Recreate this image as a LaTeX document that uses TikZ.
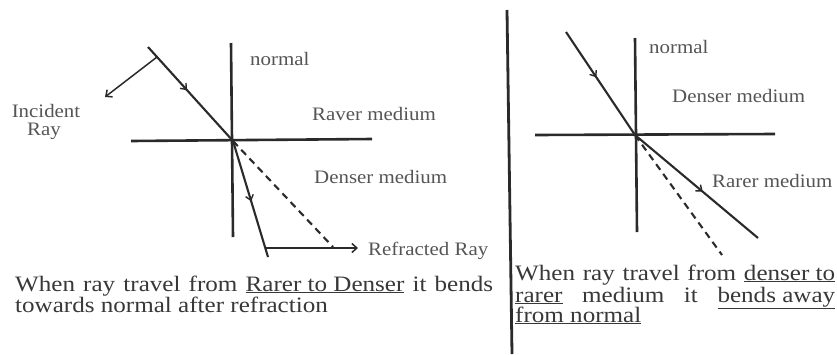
\documentclass[tikz,border=0pt]{standalone}
\usepackage{fontspec}
\setmainfont{Liberation Serif}
\newfontfamily\mainf[FakeStretch=1.14]{Liberation Serif}
\newfontfamily\labf[FakeStretch=1.1]{Liberation Serif}
\usetikzlibrary{arrows.meta,decorations.markings}
\definecolor{ink}{HTML}{2A2A2A}
\definecolor{txt}{HTML}{383838}
\definecolor{lab}{HTML}{555555}
\begin{document}
\begin{tikzpicture}[x=1pt,y=-1pt,
  axis/.style={line width=2.6pt,draw=ink},
  ray/.style={line width=2.1pt,draw=ink},
  dray/.style={line width=2.1pt,draw=ink,dash pattern=on 7pt off 5pt},
  pointer/.style={line width=1.5pt,draw=ink,-{Straight Barb[length=5pt,width=9pt]}},
  midarrow/.style={postaction={decorate},decoration={markings,mark=at position #1 with {\arrow[ink,line width=1.4pt]{Straight Barb[length=5pt,width=8pt]}}}},
  lbl/.style={inner sep=0pt,anchor=base west,text=lab,font=\labf\fontsize{19}{21}\selectfont},
  body/.style={inner sep=0pt,anchor=base west,text=txt,font=\mainf\fontsize{22}{21}\selectfont}]
\fill[white] (0,0) rectangle (837,354);
\useasboundingbox (0,0) rectangle (837,354);

% ---------- left diagram ----------
\coordinate (LO) at (233,141);
\coordinate (LNt) at (231,43);
\coordinate (LNb) at (233,237);
\coordinate (LSl) at (131,141);
\coordinate (LSr) at (372,139);
\coordinate (LIs) at (148,47);
\coordinate (LRe) at (268,257);
\coordinate (LDe) at (333,247);
\coordinate (LP1) at (157,57);
\coordinate (LP2) at (105,97);
\coordinate (LQ1) at (266,248);
\coordinate (LQ2) at (358,248);

\draw[axis] (LNt) -- (LNb);
\draw[axis] (LSl) -- (LSr);
\draw[ray,midarrow=0.46] (LIs) -- (LO);
\draw[ray,midarrow=0.52] (LO) -- (LRe);
\draw[dray] (LO) -- (LDe);
\draw[pointer] (LP1) -- (LP2);
\draw[pointer] (LQ1) -- (LQ2);

\node[lbl] (ln) at (250,65) {normal};
\node[lbl] (lrm) at (312,120) {Raver medium};
\node[lbl] (ldm) at (314,183) {Denser medium};
\node[lbl] (lrr) at (368,255) {Refracted Ray};
\node[lbl,anchor=base] (li1) at (46,117) {Incident};
\node[lbl,anchor=base] (li2) at (44,135) {Ray};

\node[body] (t1) at (15,291) {\makebox[478pt][s]{When ray travel from \underline{Rarer to Denser} it bends}};
\node[body] (t2) at (15,312) {towards normal after refraction};

% ---------- divider ----------
\coordinate (Dt) at (507,10);
\coordinate (Db) at (512,354);
\draw[line width=2.8pt,draw=ink] (Dt) -- (Db);

% ---------- right diagram ----------
\coordinate (RO) at (635,135);
\coordinate (RNt) at (635,38);
\coordinate (RNb) at (637,232);
\coordinate (RSl) at (535,135);
\coordinate (RSr) at (775,134);
\coordinate (RIs) at (566,32);
\coordinate (RRe) at (758,238);
\coordinate (RDe) at (722,255);

\draw[axis] (RNt) -- (RNb);
\draw[axis] (RSl) -- (RSr);
\draw[ray,midarrow=0.44] (RIs) -- (RO);
\draw[dray] (RO) -- (RDe);
\draw[ray,midarrow=0.55] (RO) -- (RRe);

\node[lbl] (rn) at (649,53) {normal};
\node[lbl] (rdm) at (672,102) {Denser medium};
\node[lbl] (rrm) at (712,187) {Rarer medium};

\node[body] (r1) at (515,280) {\makebox[320pt][s]{When ray travel from \underline{denser to}}};
\node[body] (r2) at (515,302) {\makebox[320pt][s]{\underline{rarer} medium it \underline{bends away}}};
\node[body] (r3) at (515,322) {\underline{from normal}};
\end{tikzpicture}
\end{document}
